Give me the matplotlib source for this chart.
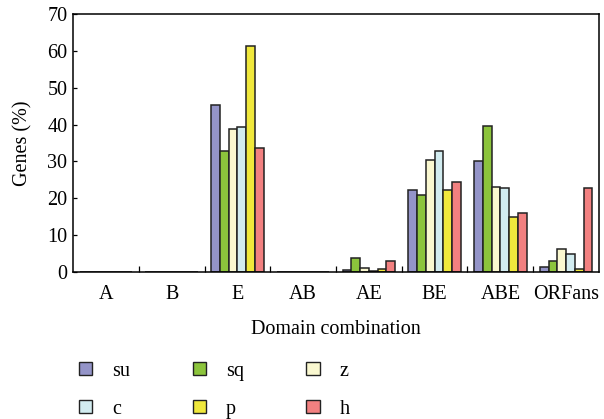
import matplotlib.pyplot as plt
import numpy as np
from matplotlib.patches import Patch

plt.rcParams['font.family'] = ['Liberation Serif', 'DejaVu Serif']

categories = ["A", "B", "E", "AB", "AE", "BE", "ABE", "ORFans"]
series = ["su", "sq", "z", "c", "p", "h"]
colors = ["#9494c8", "#8cc43c", "#faf8d0", "#d2ecf0", "#f0e83c", "#f28080"]

su = [0, 0, 45.4, 0, 0.6, 22.3, 30.2, 1.4]
sq = [0, 0, 32.9, 0, 3.9, 21.0, 39.5, 2.9]
z = [0, 0, 38.9, 0, 1.0, 30.5, 23.0, 6.3]
c = [0, 0, 39.3, 0, 0.3, 32.7, 22.8, 4.9]
p = [0, 0, 61.4, 0, 0.7, 22.3, 14.8, 0.7]
h = [0, 0, 33.7, 0, 2.9, 24.5, 15.9, 22.8]
values = [su, sq, z, c, p, h]

fs = 14.5

fig = plt.figure(figsize=(6.04, 4.19), dpi=100)
ax = fig.add_axes([0.1209, 0.3508, 0.8708, 0.6158])

x = np.arange(len(categories))
w = 0.8 / len(series)
for i, (vals, col) in enumerate(zip(values, colors)):
    ax.bar(x - 0.4 + w * (i + 0.5), vals, width=w, color=col,
           edgecolor="#222222", linewidth=1.1)

ax.set_xlim(-0.5, len(categories) - 0.5)
ax.set_ylim(0, 70)
ax.set_yticks(np.arange(0, 71, 10))
ax.set_xticks(x)
ax.set_xticklabels(categories)
ax.set_xticks(np.arange(0.5, len(categories) - 0.5, 1), minor=True)
ax.tick_params(axis="x", which="major", length=0, labelsize=fs, pad=9)
ax.tick_params(axis="x", which="minor", direction="in", length=4, width=0.9)
ax.tick_params(axis="y", direction="in", length=3, width=0.9, labelsize=fs, pad=4)
for s in ax.spines.values():
    s.set_linewidth(1.1)

ax.set_ylabel("Genes (%)", fontsize=fs, labelpad=11)
ax.set_xlabel("Domain combination", fontsize=fs, labelpad=12)

handles = [Patch(facecolor=col, edgecolor="#222222", linewidth=1.0) for col in colors]
order = [0, 3, 1, 4, 2, 5]
fig.legend([handles[i] for i in order], [series[i] for i in order],
           loc="upper left", bbox_to_anchor=(0.101, 0.180), ncol=3,
           frameon=False, fontsize=fs, handlelength=0.65, handleheight=0.65,
           handletextpad=1.0, columnspacing=3.1, labelspacing=0.95)

fig.savefig("out.png", dpi=100)
